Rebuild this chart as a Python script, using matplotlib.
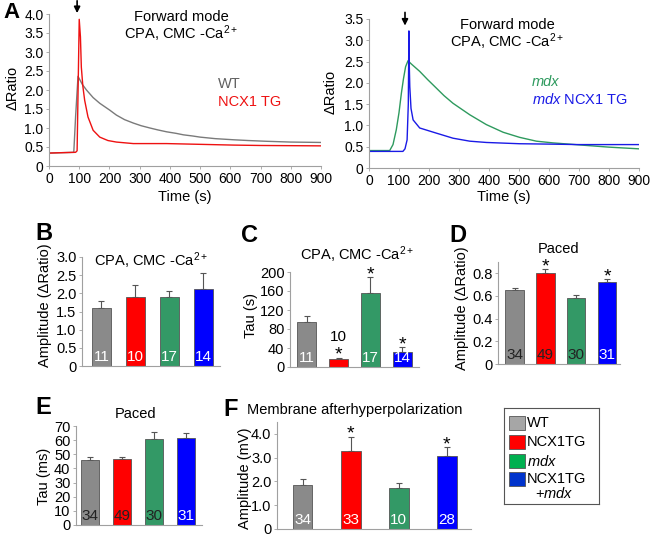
import numpy as np
import matplotlib
matplotlib.use('Agg')
import matplotlib.pyplot as plt
from matplotlib.patches import Rectangle

plt.rcParams['font.family'] = ['Liberation Sans', 'DejaVu Sans']
plt.rcParams['mathtext.fontset'] = 'custom'
plt.rcParams['mathtext.rm'] = 'Liberation Sans'
plt.rcParams['mathtext.it'] = 'Liberation Sans:italic'
plt.rcParams['mathtext.bf'] = 'Liberation Sans:bold'

W, H = 650, 537

# ---- Panel A traces ----
wt_t = [0, 40, 82, 88, 96, 110, 124, 146, 168, 201, 223, 250, 279, 305, 334, 360, 389, 420, 445, 475, 500, 550, 611, 660, 721, 800, 898]
wt_r = [0.34, 0.35, 0.36, 1.3, 2.36, 2.15, 2.0, 1.8, 1.65, 1.47, 1.34, 1.22, 1.13, 1.06, 1.0, 0.95, 0.90, 0.86, 0.82, 0.79, 0.76, 0.72, 0.69, 0.67, 0.65, 0.63, 0.62]
tg_t = [0, 40, 88, 93, 100, 104, 107, 112, 118, 129, 146, 168, 195, 223, 279, 389, 500, 611, 700, 898]
tg_r = [0.34, 0.35, 0.36, 0.40, 3.86, 3.4, 2.6, 2.1, 1.73, 1.29, 0.94, 0.76, 0.67, 0.63, 0.59, 0.59, 0.57, 0.55, 0.54, 0.53]
mdx_t = [0, 40, 69, 80, 91, 100, 108, 115, 122, 130, 140, 169, 195, 224, 250, 280, 336, 391, 447, 502, 558, 613, 724, 800, 900]
mdx_r = [0.41, 0.41, 0.41, 0.55, 0.9, 1.3, 1.76, 2.1, 2.38, 2.52, 2.45, 2.27, 2.08, 1.88, 1.70, 1.52, 1.25, 1.02, 0.84, 0.72, 0.63, 0.59, 0.53, 0.49, 0.45]
mdxtg_t = [0, 50, 113, 120, 127, 131, 133, 134, 136, 140, 147, 169, 224, 280, 336, 391, 502, 613, 700, 900]
mdxtg_r = [0.39, 0.39, 0.39, 0.45, 0.66, 1.5, 3.22, 2.5, 1.91, 1.4, 1.13, 0.94, 0.82, 0.70, 0.63, 0.60, 0.57, 0.56, 0.55, 0.55]

# ---- Bar panels ----
groups = ['WT', 'NCX1TG', 'mdx', 'NCX1TG+mdx']
b_amp = [1.61, 1.90, 1.91, 2.11]
b_err = [0.18, 0.34, 0.16, 0.44]
b_n = ['11', '10', '17', '14']
c_tau = [94, 17, 156, 32]
c_err = [13, 3, 34, 10]
c_n = ['11', '10', '17', '14']
d_amp = [0.652, 0.80, 0.579, 0.72]
d_err = [0.023, 0.037, 0.031, 0.03]
d_n = ['34', '49', '30', '31']
e_tau = [46, 46.5, 61, 61.6]
e_err = [1.9, 1.8, 4.8, 3.4]
e_n = ['34', '49', '30', '31']
f_amp = [1.86, 3.29, 1.72, 3.09]
f_err = [0.25, 0.60, 0.21, 0.35]
f_n = ['34', '33', '10', '28']

bar_colors = ['#8a8a8a', '#ff0000', '#339966', '#0000ff']
leg_colors = ['#a6a6a6', '#ff0000', '#00b050', '#0033cc']
spine_c = '#a0a0a0'

fig = plt.figure(figsize=(W / 100, H / 100), dpi=100)


def px_axes(l, t, r, b):
    return fig.add_axes([l / W, 1 - b / H, (r - l) / W, (b - t) / H])


def T(x, y, s, **kw):
    kw.setdefault('ha', 'center')
    kw.setdefault('va', 'center')
    fig.text(x / W, 1 - y / H, s, **kw)


def fmt(v, pos=None):
    if abs(v) < 1e-9:
        return '0'
    return f'{v:.1f}'


def style(ax, fs):
    for s in ['top', 'right']:
        ax.spines[s].set_visible(False)
    for s in ['left', 'bottom']:
        ax.spines[s].set_color(spine_c)
        ax.spines[s].set_linewidth(0.8)
    ax.tick_params(axis='both', labelsize=fs, length=2.5, width=0.6,
                   color=spine_c, pad=1.5)


# ---- A ----
axA1 = px_axes(49, 14, 321, 166)
axA1.plot(wt_t, wt_r, color='#7a7a7a', lw=1.0)
axA1.plot(tg_t, tg_r, color='#ee1111', lw=1.0)
axA1.set_xlim(0, 900)
axA1.set_ylim(0, 4.0)
axA1.set_xticks(np.arange(0, 901, 100))
axA1.set_yticks(np.arange(0, 4.01, 0.5))
axA1.yaxis.set_major_formatter(plt.FuncFormatter(fmt))
style(axA1, 10)
axA1.annotate('', xy=(93, 3.95), xytext=(93, 4.42),
              arrowprops=dict(arrowstyle='-|>', color='k', lw=1.2,
                              mutation_scale=9), annotation_clip=False)

axA2 = px_axes(369, 19, 639, 168)
axA2.plot(mdx_t, mdx_r, color='#2e9a5e', lw=1.0)
axA2.plot(mdxtg_t, mdxtg_r, color='#1a1ae6', lw=1.0)
axA2.set_xlim(0, 900)
axA2.set_ylim(0, 3.5)
axA2.set_xticks(np.arange(0, 901, 100))
axA2.set_yticks(np.arange(0, 3.51, 0.5))
axA2.yaxis.set_major_formatter(plt.FuncFormatter(fmt))
style(axA2, 10)
axA2.annotate('', xy=(120, 3.28), xytext=(120, 3.72),
              arrowprops=dict(arrowstyle='-|>', color='k', lw=1.2,
                              mutation_scale=9), annotation_clip=False)

T(11, 13, 'A', fontsize=16, fontweight='bold')
T(13, 88, '\u0394Ratio', rotation=90, fontsize=10.5)
T(331, 92, '\u0394Ratio', rotation=90, fontsize=10.5)
T(185, 197, 'Time (s)', fontsize=10.5)
T(504, 197, 'Time (s)', fontsize=10.5)
T(181, 17, 'Forward mode', fontsize=10.5)
T(181, 34, 'CPA, CMC -Ca$^{2+}$', fontsize=10.5)
T(507, 25, 'Forward mode', fontsize=10.5)
T(507, 42, 'CPA, CMC -Ca$^{2+}$', fontsize=10.5)
T(218, 84, 'WT', fontsize=10.5, ha='left', color='#606060')
T(218, 102, 'NCX1 TG', fontsize=10.5, ha='left', color='#ee1111')
T(532, 82, 'mdx', fontsize=10.5, ha='left', color='#2e9a5e', style='italic')
T(532, 100, '$\\mathit{mdx}$ NCX1 TG', fontsize=10.5, ha='left', color='#1a1ae6')


def bar_panel(ax, vals, errs, ns, n_colors, width, xlim, ylim, yticks,
              fs, formatter=None, stars=(), n_above=()):
    x = np.arange(len(vals))
    ax.bar(x, vals, width=width, color=bar_colors, edgecolor='#555555',
           linewidth=0.6, zorder=2)
    ax.errorbar(x, vals, yerr=[np.zeros(len(vals)), errs], fmt='none',
                ecolor='#555555', elinewidth=0.8, capsize=2, capthick=0.8,
                zorder=1)
    ax.set_xlim(*xlim)
    ax.set_ylim(*ylim)
    ax.set_xticks([])
    ax.set_yticks(yticks)
    if formatter:
        ax.yaxis.set_major_formatter(plt.FuncFormatter(formatter))
    style(ax, fs)
    for i, (n, c) in enumerate(zip(ns, n_colors)):
        if i in n_above:
            continue
        ax.annotate(n, xy=(i, 0), xytext=(0, 6.5), textcoords='offset points',
                    ha='center', va='center', fontsize=11, color=c)
    for i in stars:
        top = vals[i] + errs[i]
        ax.annotate('*', xy=(i, top), xytext=(0, -4.5), textcoords='offset points',
                    ha='center', va='bottom', fontsize=14, color='k')
        if i in n_above:
            ax.annotate(ns[i], xy=(i, top), xytext=(0, 15),
                        textcoords='offset points', ha='center', va='center',
                        fontsize=11, color='k')


w4 = ['white'] * 4
axB = px_axes(82, 257, 220, 366)
bar_panel(axB, b_amp, b_err, b_n, w4, 0.56, (-0.57, 3.49), (0, 3.0),
          np.arange(0, 3.01, 0.5), 10.5, fmt)
axC = px_axes(290, 272, 419, 367)
bar_panel(axC, c_tau, c_err, c_n, w4, 0.6, (-0.52, 3.52), (0, 200),
          np.arange(0, 201, 40), 10.5, stars=(1, 2, 3), n_above=(1,))
axD = px_axes(498, 262, 620, 364)
bar_panel(axD, d_amp, d_err, d_n, ['#222222', '#222222', '#222222', 'white'],
          0.6, (-0.54, 3.42), (0, 0.9), np.arange(0, 0.81, 0.2), 10.5, fmt,
          stars=(1, 3))
axE = px_axes(76, 426, 202, 525)
bar_panel(axE, e_tau, e_err, e_n, ['#222222', '#222222', '#222222', 'white'],
          0.58, (-0.44, 3.5), (0, 70), np.arange(0, 71, 10), 10.5)
axF = px_axes(277, 422, 471, 529)
bar_panel(axF, f_amp, f_err, f_n, w4, 0.41, (-0.53, 3.5), (0, 4.5),
          np.arange(0, 4.01, 1.0), 10.5, fmt, stars=(1, 3))

T(44, 234, 'B', fontsize=17, fontweight='bold')
T(249, 235, 'C', fontsize=17, fontweight='bold')
T(458, 235, 'D', fontsize=17, fontweight='bold')
T(43, 407, 'E', fontsize=17, fontweight='bold')
T(231, 410, 'F', fontsize=17, fontweight='bold')

T(151, 261, 'CPA, CMC -Ca$^{2+}$', fontsize=10.5)
T(357, 255, 'CPA, CMC -Ca$^{2+}$', fontsize=10.5)
T(559, 249, 'Paced', fontsize=10.5)
T(136, 414, 'Paced', fontsize=10.5)
T(247, 410, 'Membrane afterhyperpolarization', fontsize=10.5, ha='left')

T(45, 305, 'Amplitude (\u0394Ratio)', rotation=90, fontsize=10.5)
T(251, 315, 'Tau (s)', rotation=90, fontsize=10.5)
T(462, 308, 'Amplitude (\u0394Ratio)', rotation=90, fontsize=10.5)
T(44, 476, 'Tau (ms)', rotation=90, fontsize=10.5)
T(245, 478, 'Amplitude (mV)', rotation=90, fontsize=10.5)

# ---- legend ----
axL = px_axes(504, 408, 599, 504)
axL.set_xlim(0, 95)
axL.set_ylim(96, 0)
axL.set_xticks([])
axL.set_yticks([])
for s in axL.spines.values():
    s.set_color('#555555')
    s.set_linewidth(0.8)
leg_labels = ['WT', 'NCX1TG', '$\\mathit{mdx}$', 'NCX1TG']
leg_y = [15, 34, 53, 71]
for c, lab, y in zip(leg_colors, leg_labels, leg_y):
    axL.add_patch(Rectangle((5, y - 7), 16, 14, facecolor=c,
                            edgecolor='#555555', linewidth=0.6))
    axL.text(23, y, lab, fontsize=10.5, va='center', ha='left')
axL.text(31, 85, '+$\\mathit{mdx}$', fontsize=10.5, va='center', ha='left')

fig.savefig('out.png', dpi=100)
